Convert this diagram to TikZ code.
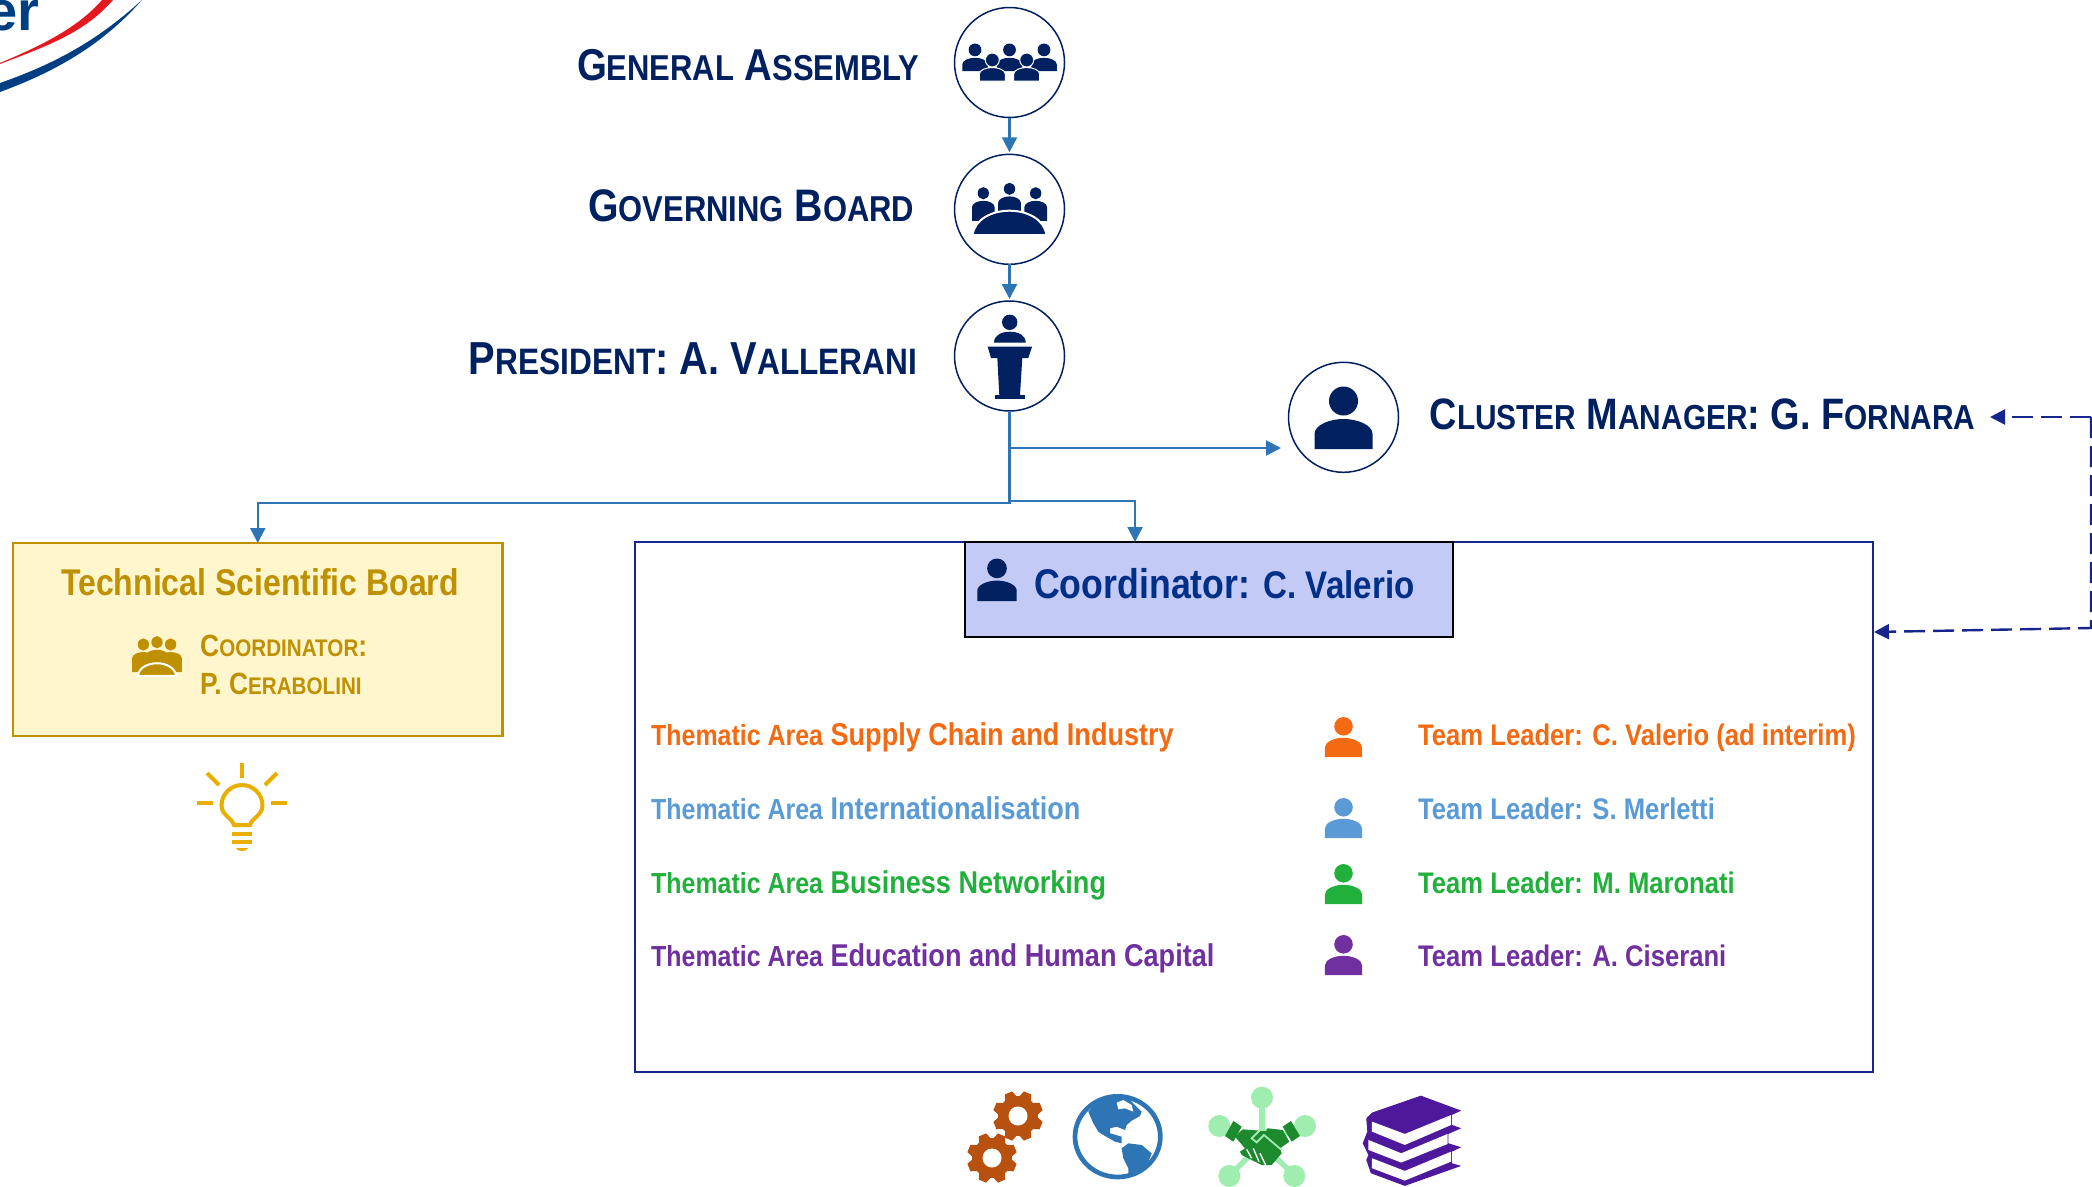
\documentclass[tikz,border=0pt]{standalone}
\usepackage{fontspec}
\setmainfont{Liberation Sans}[FakeStretch=0.86]
\newfontfamily\logofont{Liberation Sans}
\usetikzlibrary{positioning,arrows.meta,calc}
\definecolor{NavyColor}{RGB}{0,32,96}
\definecolor{FlowColor}{RGB}{46,117,182}
\definecolor{FrameColor}{RGB}{22,38,140}
\definecolor{GoldColor}{RGB}{191,144,0}
\definecolor{PaleGoldColor}{RGB}{255,246,206}
\definecolor{BulbColor}{RGB}{232,174,0}
\definecolor{LilacColor}{RGB}{194,202,245}
\definecolor{CoordColor}{RGB}{0,47,135}
\definecolor{SupplyColor}{RGB}{243,106,18}
\definecolor{InterColor}{RGB}{91,155,213}
\definecolor{NetColor}{RGB}{34,176,60}
\definecolor{EduColor}{RGB}{112,48,160}
\definecolor{RustColor}{RGB}{184,80,15}
\definecolor{MintColor}{RGB}{160,237,176}
\definecolor{LeafColor}{RGB}{30,138,46}
\definecolor{BookColor}{RGB}{78,24,156}
\definecolor{LogoRed}{RGB}{228,24,30}
\definecolor{LogoBlue}{RGB}{0,62,132}

\newcommand{\smallpart}[1]{{\fontsize{\partsize}{\partsize}\selectfont #1}}
\newcommand{\setsizes}[2]{\def\partsize{#2}\fontsize{#1}{#1}\selectfont\bfseries}

\tikzset{
    person/.pic={
        \fill (0,-48) circle[radius=14.5];
        \filldraw[draw=none] (-29,0) -- (-29,-15) .. controls (-29,-24) and (-14,-30) .. (0,-30)
            .. controls (14,-30) and (29,-24) .. (29,-15) -- (29,0) -- cycle;
    },
    seated/.pic={
        \fill (0,-48) circle[radius=14.5];
        \fill (-29,18) -- (-29,-15) .. controls (-29,-24) and (-14,-30) .. (0,-30)
            .. controls (14,-30) and (29,-24) .. (29,-15) -- (29,18) -- cycle;
    },
    table/.pic={
        \pic[xscale=.39, yscale=.42] at (-26.2,3.9) {seated};
        \pic[xscale=.39, yscale=.42] at (0,-.5) {seated};
        \pic[xscale=.39, yscale=.42] at (26.2,3.9) {seated};
        \filldraw[draw=white, line width=2pt] (-37,25.7) .. controls (-35,10) and (-18,1.2) .. (0,1.2)
            .. controls (18,1.2) and (35,10) .. (37,25.7) -- cycle;
    },
    gear/.pic={
        \fill (0,0) circle[radius=20];
        \foreach \a in {0,45,...,315}
            \fill[rotate=\a+22.5] (-4,-25) -- (4,-25) -- (6.5,-18) -- (-6.5,-18) -- cycle;
        \fill[white] (0,0) circle[radius=9.5];
    },
    ball/.style={circle, draw=NavyColor, line width=1.5pt, fill=white, minimum size=110pt, outer sep=0pt},
    headlabel/.style={text=NavyColor, inner sep=0pt},
    flow/.style={draw=FlowColor, line width=2.2pt, -{Triangle[length=15pt,width=15pt]}},
    return/.style={draw=FrameColor, line width=2.4pt, dash pattern=on 21pt off 8pt,
        -{Triangle[length=15pt,width=15pt]}},
    tint/.style={inner sep=0pt, anchor=west},
    rowtext/.style={inner sep=0pt, anchor=base west}
}

\begin{document}
\begin{tikzpicture}[x=1pt, y=-1pt]
    \useasboundingbox (0,0) rectangle (2092,1186);

    % logo corner
    \node[anchor=base east, inner sep=0pt, text=LogoBlue, font=\logofont\fontsize{56pt}{56pt}\selectfont\bfseries] (LogoText) at (40,30) {er};
    \fill[LogoRed] (0,64) .. controls (50,45) and (85,32) .. (113,0) -- (102,0)
        .. controls (80,25) and (50,42) .. (0,63) -- cycle;
    \fill[LogoBlue] (0,92) .. controls (60,70) and (105,42) .. (142,0)
        .. controls (100,38) and (60,62) .. (0,83) -- cycle;

    \node[ball] at (1009.5,62.5) (AssemblyBall) {};
    \node[ball] at (1009.5,209.3) (BoardBall) {};
    \node[ball] at (1009.5,356) (PresidentBall) {};
    \node[ball] at (1343.5,417.3) (ManagerBall) {};

    \node[headlabel, font=\setsizes{44.6pt}{36pt}, left=35pt of AssemblyBall, yshift=-3pt] (AssemblyLabel) {G\smallpart{ENERAL} A\smallpart{SSEMBLY}};
    \node[headlabel, font=\setsizes{45.6pt}{36pt}, left=40pt of BoardBall, yshift=3.5pt] (BoardLabel) {G\smallpart{OVERNING} B\smallpart{OARD}};
    \node[headlabel, font=\setsizes{46.3pt}{36.8pt}, left=37pt of PresidentBall, yshift=-3pt] (PresidentLabel) {P\smallpart{RESIDENT}: A. V\smallpart{ALLERANI}};
    \node[headlabel, font=\setsizes{44pt}{34.7pt}, right=31pt of ManagerBall, yshift=3pt] (ManagerLabel) {C\smallpart{LUSTER} M\smallpart{ANAGER}: G. F\smallpart{ORNARA}};

    % icons in the balls
    \begin{scope}[color=NavyColor]
        \foreach \px in {975,1009.5,1044}
            \pic[scale=.44] at (\px,71) {person};
        \foreach \px in {992.3,1026.7}
            \filldraw[draw=white, line width=1pt] (\px,60) circle[radius=7];
        \foreach \px in {992.3,1026.7}
            \filldraw[draw=white, line width=1pt] (\px-13,81) -- (\px-13,74) .. controls (\px-13,70) and (\px-6,67.5) .. (\px,67.5)
                .. controls (\px+6,67.5) and (\px+13,70) .. (\px+13,74) -- (\px+13,81) -- cycle;
        \pic at (1009.5,209.5) {table};
        % podium
        \fill (1009.7,322.3) circle[radius=7.7];
        \fill (994,342.7) .. controls (994,335) and (1002,331.7) .. (1009.7,331.7)
            .. controls (1018,331.7) and (1025.7,335) .. (1025.7,342.7) -- cycle;
        \fill (987.7,346.7) -- (1032,346.7) -- (1028.3,358) -- (991,358) -- cycle;
        \fill (997.3,358) -- (1022.3,358) -- (1020,395) -- (999.3,395) -- cycle;
        \fill (994.7,395) rectangle (1025,398.7);
        \pic at (1343.5,449) {person};
    \end{scope}

    \node[draw=GoldColor, fill=PaleGoldColor, line width=2.6pt, minimum width=489.5pt, minimum height=193pt,
        outer sep=0pt, anchor=north west] at (13,543) (TechBox) {};
    \node[inner sep=0pt, text=GoldColor, font=\setsizes{37.2pt}{37.2pt}] at (260,582) (TechTitle) {Technical Scientific Board};
    \node[tint, text=GoldColor, font=\setsizes{30.7pt}{24pt}] at (200,646) (TechCoord) {C\smallpart{OORDINATOR}:};
    \node[tint, text=GoldColor, font=\setsizes{30.7pt}{24pt}] at (200,684) (TechName) {P. C\smallpart{ERABOLINI}};
    \pic[color=GoldColor, scale=.52] at (157,662.6) {table};

    % lightbulb
    \begin{scope}[draw=BulbColor, line width=4pt]
        \draw (234,825) .. controls (232,818) and (221.5,815) .. (221.5,805.5)
            .. controls (221.5,794) and (231,785) .. (242,785)
            .. controls (253,785) and (262.5,794) .. (262.5,805.5)
            .. controls (262.5,815) and (252,818) .. (250,825) -- cycle;
        \draw (242,763) -- (242,778);
        \draw (197,803) -- (213,803);
        \draw (271,803) -- (287,803);
        \draw (207,773) -- (219,785);
        \draw (277,773) -- (265,785);
        \draw (232,834) -- (252,834);
        \draw (232,842) -- (252,842);
        \fill[BulbColor] (236,848) -- (248,848) .. controls (247,852) and (237,852) .. (236,848) -- cycle;
    \end{scope}

    \node[draw=FrameColor, line width=2.4pt, minimum width=1238pt, minimum height=530pt,
        outer sep=0pt, anchor=north west] at (635,542) (AreaBox) {};
    \node[draw=black, fill=LilacColor, line width=1.8pt, minimum width=488pt, minimum height=95pt,
        outer sep=0pt, anchor=north west] at (965,542) (CoordBox) {};
    \pic[color=NavyColor, scale=.68] at (997,601) {person};
    \node[rowtext, text=CoordColor, font=\setsizes{41.5pt}{38.5pt}] at (1034,598) (CoordLabel) {Coordinator: \smallpart{C. Valerio}};

    \foreach \row/\rowy/\rowbase/\rowcolor/\areaname/\leader in {
        1/745/757/SupplyColor/Supply Chain and Industry/C. Valerio (ad interim),
        2/819/838/InterColor/Internationalisation/S. Merletti,
        3/893/904/NetColor/Business Networking/M. Maronati,
        4/966/975/EduColor/Education and Human Capital/A. Ciserani}
    {
        \node[rowtext, text=\rowcolor, font=\setsizes{31.5pt}{29pt}] at (651,\rowy) (Area\row) {\smallpart{Thematic Area} \areaname};
        \pic[color=\rowcolor, scale=.64] at (1343.5,\rowbase) {person};
        \node[rowtext, text=\rowcolor, font=\setsizes{29.8pt}{29.8pt}] at (1418,\rowy) (Leader\row) {Team Leader: \leader};
    }

    % connectors
    \coordinate (ManagerEntry) at (1281,448);
    \coordinate (SplitHigh) at (PresidentBall.south |- ManagerEntry);
    \coordinate (SplitLow) at ($(PresidentBall.south)+(0,92)$);
    \coordinate (AreaEntry) at (1135,542);
    \coordinate (AreaTurn) at (1135,501);
    \coordinate (SplitArea) at (PresidentBall.south |- AreaTurn);
    \coordinate (TechTurn) at (TechBox.north |- SplitLow);
    \coordinate (ReturnTop) at (2091,417);
    \coordinate (ReturnLow) at (2091,628);
    \coordinate (ManagerBack) at (1990,417);
    \coordinate (AreaBack) at (1874,632);

    \draw[flow, shorten >=2pt] (AssemblyBall) -- (BoardBall);
    \draw[flow, shorten >=2pt] (BoardBall) -- (PresidentBall);
    \draw[flow] (SplitHigh) -- (ManagerEntry);
    \draw[flow] (PresidentBall.south) -- (SplitLow) -- (TechTurn) -- (TechBox.north);
    \draw[flow] (SplitArea) -- (AreaTurn) -- (AreaEntry);
    \draw[return] (ReturnTop) -- (ManagerBack);
    \draw[return] (ReturnTop) -- (ReturnLow) -- (AreaBack);

    % bottom icons
    \pic[color=RustColor] at (1018,1116) {gear};
    \pic[color=RustColor] at (992,1158) {gear};

    \begin{scope}[shift={(1060,1080)}, scale=.3333]
        \draw[FlowColor, line width=4.7pt] (173,170) ellipse[x radius=128, y radius=121];
        \fill[FlowColor] (85,95) -- (110,65) -- (160,50) -- (210,60) -- (245,95) -- (240,108) -- (215,122) -- (200,135)
            -- (195,150) -- (170,140) -- (150,145) -- (150,160) -- (185,170) -- (185,190) -- (165,185) -- (130,165)
            -- (115,155) -- (100,130) -- cycle;
        \fill[white] (170,68) -- (190,60) -- (215,75) -- (220,95) -- (195,85) -- (175,88) -- cycle;
        \fill[white] (200,158) -- (222,165) -- (220,170) -- (198,163) -- cycle;
        \fill[FlowColor] (185,205) -- (205,190) -- (245,195) -- (275,220) -- (265,245) -- (235,275) -- (205,295)
            -- (205,265) -- (190,235) -- cycle;

        \foreach \tx/\ty in {606/53, 478/138, 735/138, 508/288, 703/288}
            \draw[MintColor, line width=5.5pt] (606,190) -- (\tx,\ty);
        \foreach \tx/\ty in {606/53, 478/138, 735/138, 508/288, 703/288}
            \fill[MintColor] (\tx,\ty) circle[radius=33];
        \fill[LeafColor] (520,123) -- (545,140) -- (520,185) -- (495,168) -- cycle;
        \fill[LeafColor] (693,123) -- (668,140) -- (695,185) -- (720,168) -- cycle;
        \fill[LeafColor] (548,148) -- (600,152) -- (625,145) -- (668,150) -- (688,185) -- (660,205) -- (665,220)
            -- (635,255) -- (605,255) -- (545,225) -- (540,215) -- (555,205) -- (525,170) -- cycle;
        \draw[MintColor, line width=1.8pt] (665,210) -- (612,165) -- (590,187) -- (575,175) -- (600,150) -- (620,150);
        \draw[white, line width=1.3pt] (560,208) -- (575,235);
        \draw[white, line width=1.3pt] (580,205) -- (597,245);
        \draw[white, line width=1.3pt] (600,220) -- (617,255);
    \end{scope}

    \begin{scope}[shift={(930,1060)}, xscale=.357, yscale=.333]
        \fill[BookColor] (1375,107) -- (1488,152) -- (1462,165) -- (1462,195) -- (1488,205) -- (1452,222) -- (1452,250)
            -- (1488,262) -- (1462,275) -- (1462,310) -- (1488,318) -- (1330,378) -- (1235,340) -- (1222,300) -- (1228,285)
            -- (1212,250) -- (1225,215) -- (1222,175) -- (1238,158) -- cycle;
        \fill[white] (1238,185) -- (1330,222) -- (1460,165) -- (1460,195) -- (1330,255) -- (1238,215) -- cycle;
        \fill[white] (1228,240) -- (1320,280) -- (1450,222) -- (1450,252) -- (1320,308) -- (1228,270) -- cycle;
        \fill[white] (1238,295) -- (1330,333) -- (1460,275) -- (1460,305) -- (1330,362) -- (1238,325) -- cycle;
    \end{scope}
\end{tikzpicture}
\end{document}
